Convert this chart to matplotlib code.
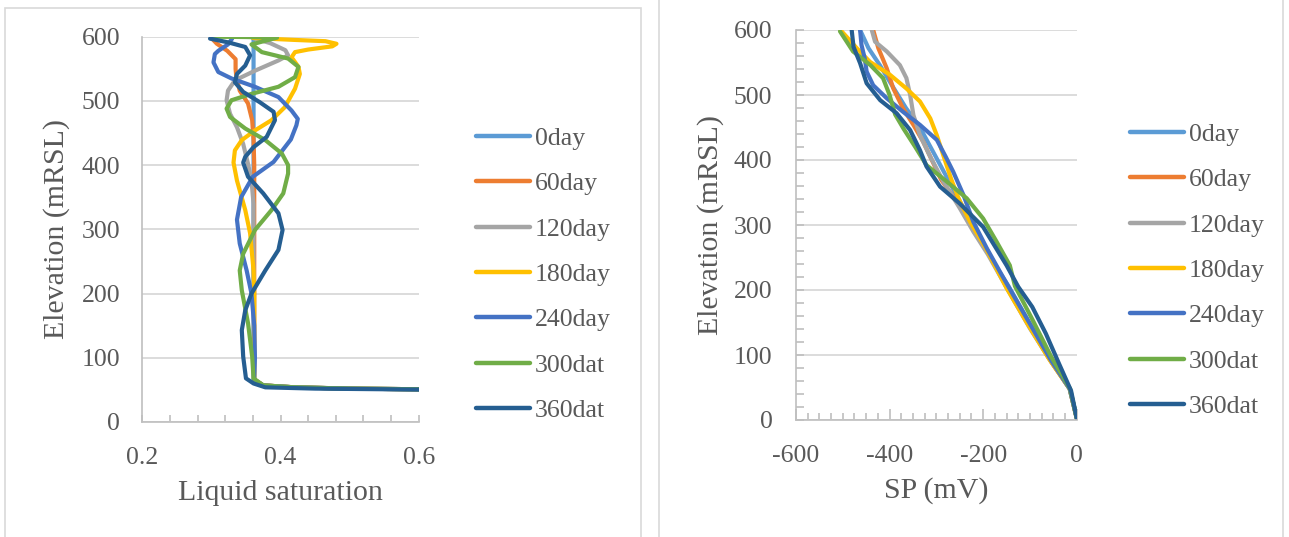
import matplotlib
matplotlib.use("Agg")
import matplotlib.pyplot as plt
from matplotlib.patches import Rectangle
from matplotlib.ticker import MultipleLocator

plt.rcParams['font.family'] = ['Liberation Serif', 'DejaVu Serif']
plt.rcParams['axes.unicode_minus'] = False

# series names and colours (Excel default palette)
labels = ["0day", "60day", "120day", "180day", "240day", "300dat", "360dat"]
colors = ["#5B9BD5", "#ED7D31", "#A5A5A5", "#FFC000", "#4472C4", "#70AD47", "#255E91"]

# ---- left chart: liquid saturation vs elevation ----
sat_0day = [0.361, 0.361, 0.361, 0.375, 0.42, 0.5, 0.6]
z_0day = [600, 300, 66, 57, 54, 52, 51]

sat_60day = [0.300, 0.308, 0.323, 0.335, 0.335, 0.336, 0.341, 0.353, 0.359, 0.361, 0.362,
             0.362, 0.362, 0.375, 0.42, 0.5, 0.6]
z_60day = [598, 589, 578, 565, 550, 538, 516, 496, 470, 440, 400,
           200, 66, 57, 54, 52, 51]

sat_120day = [0.36, 0.385, 0.407, 0.411, 0.397, 0.363, 0.334, 0.324, 0.322, 0.327, 0.337,
              0.346, 0.353, 0.358, 0.361, 0.361, 0.375, 0.42, 0.5, 0.6]
z_120day = [598, 590, 579, 571, 563, 547, 532, 516, 501, 480, 459,
            433, 402, 376, 340, 66, 57, 54, 52, 51]

sat_180day = [0.36, 0.42, 0.465, 0.481, 0.475, 0.44, 0.421, 0.416, 0.426, 0.428, 0.421,
              0.406, 0.387, 0.363, 0.344, 0.334, 0.332, 0.337, 0.349, 0.356, 0.361,
              0.362, 0.362, 0.375, 0.42, 0.5, 0.6]
z_180day = [598, 595, 593, 589, 585, 580, 576, 568, 553, 542, 519,
            490, 470, 454, 439, 423, 404, 376, 330, 294, 236,
            200, 66, 57, 54, 52, 51]

sat_240day = [0.33, 0.324, 0.31, 0.305, 0.303, 0.31, 0.329, 0.363, 0.397, 0.416, 0.425,
              0.423, 0.415, 0.39, 0.36, 0.343, 0.337, 0.341, 0.351, 0.358, 0.362,
              0.363, 0.362, 0.375, 0.42, 0.5, 0.6]
z_240day = [597, 588, 578, 573, 560, 545, 535, 522, 506, 485, 472,
            462, 440, 405, 382, 350, 315, 278, 236, 200, 150,
            100, 66, 57, 54, 52, 51]

sat_300dat = [0.300, 0.35, 0.395, 0.358, 0.373, 0.411, 0.426, 0.421, 0.397, 0.358, 0.329,
              0.322, 0.327, 0.349, 0.378, 0.402, 0.411, 0.411, 0.404, 0.387, 0.363,
              0.346, 0.341, 0.344, 0.353, 0.359, 0.361, 0.375, 0.42, 0.5, 0.6]
z_300dat = [600, 599.5, 598.5, 588, 576, 566, 553, 537, 522, 511, 501,
            488, 475, 457, 439, 418, 400, 387, 356, 330, 299,
            262, 236, 205, 154, 102, 68, 57, 54, 52, 51]

sat_360dat = [0.298, 0.325, 0.349, 0.356, 0.349, 0.337, 0.334, 0.346, 0.370, 0.390, 0.392,
              0.380, 0.361, 0.349, 0.346, 0.353, 0.375, 0.397, 0.403, 0.397, 0.378,
              0.358, 0.349, 0.344, 0.346, 0.350, 0.361, 0.378, 0.45, 0.6]
z_360dat = [597, 591, 584, 571, 555, 542, 529, 514, 498, 483, 470,
            444, 428, 413, 404, 382, 356, 325, 299, 268, 236,
            200, 174, 143, 102, 68, 60, 54, 52, 50.5]

# ---- right chart: SP vs elevation ----
sp_0day = [-463, -445, -420, -395, -365, -335, -305, -275, -245, -215, -180, -145, -100, -55, -15, 0]
zs_0day = [600, 572, 545, 515, 480, 450, 410, 370, 330, 290, 245, 205, 148, 92, 48, 3]

sp_60day = [-435, -424, -406, -392, -371, -349, -328, -313, -290, -260, -230, -190, -150, -100, -55, -15, 0]
zs_60day = [600, 572, 541, 510, 479, 454, 428, 405, 370, 340, 305, 260, 205, 143, 90, 48, 3]

sp_120day = [-438, -431, -406, -378, -364, -356, -349, -335, -313, -285, -250, -221, -190, -150, -100, -55, -15, 0]
zs_120day = [600, 582, 567, 546, 526, 500, 469, 438, 405, 367, 326, 290, 255, 204, 141, 90, 48, 3]

sp_180day = [-505, -470, -442, -399, -364, -335, -313, -299, -285, -268, -252, -228, -194, -150, -105, -60, -15, 0]
zs_180day = [600, 572, 551, 531, 510, 490, 464, 438, 407, 370, 340, 305, 264, 203, 148, 95, 48, 3]

sp_240day = [-463, -460, -453, -449, -435, -406, -371, -335, -299, -280, -264, -242, -221, -192, -164, -145, -100, -55, -15, 0]
zs_240day = [600, 577, 556, 536, 515, 495, 474, 454, 431, 405, 382, 346, 305, 264, 228, 204, 148, 92, 48, 3]

sp_300dat = [-506, -478, -441, -414, -400, -388, -370, -345, -321, -278, -235, -200, -171, -143, -132, -95, -55, -14, 0]
zs_300dat = [598, 567, 546, 526, 500, 470, 448, 420, 392, 367, 341, 310, 274, 238, 206, 155, 98, 48, 3]

sp_360dat = [-481, -477, -463, -449, -420, -385, -356, -335, -321, -292, -250, -200, -150, -125, -95, -66, -38, -12, 0]
zs_360dat = [600, 574, 549, 518, 492, 472, 446, 415, 390, 359, 333, 297, 238, 205, 174, 133, 87, 45, 3]

left_series = [(sat_0day, z_0day), (sat_60day, z_60day), (sat_120day, z_120day), (sat_180day, z_180day),
               (sat_240day, z_240day), (sat_300dat, z_300dat), (sat_360dat, z_360dat)]
right_series = [(sp_0day, zs_0day), (sp_60day, zs_60day), (sp_120day, zs_120day), (sp_180day, zs_180day),
                (sp_240day, zs_240day), (sp_300dat, zs_300dat), (sp_360dat, zs_360dat)]

txt = "#595959"
grid_c = "#D9D9D9"
axis_c = "#BFBFBF"

fig = plt.figure(figsize=(12.89, 5.37), dpi=100)

# chart area borders
fig.patches.append(Rectangle((5/1289, -0.05), 636/1289, 1.05 - 8/537, transform=fig.transFigure,
                             fill=False, edgecolor=grid_c, lw=1.2))
fig.patches.append(Rectangle((659/1289, -0.05), 624/1289, 1.2, transform=fig.transFigure,
                             fill=False, edgecolor=grid_c, lw=1.2))

ax1 = fig.add_axes([142.3/1289, 1 - 422/537, 276.4/1289, 385.3/537])
ax2 = fig.add_axes([796/1289, 1 - 420/537, 280.7/1289, 390/537])

for ax in (ax1, ax2):
    for sp in ("top", "right"):
        ax.spines[sp].set_visible(False)
    for sp in ("left", "bottom"):
        ax.spines[sp].set_color(axis_c)
        ax.spines[sp].set_linewidth(1.2)
    ax.set_ylim(0, 600)
    ax.yaxis.set_major_locator(MultipleLocator(100))
    ax.grid(axis="y", color=grid_c, lw=1.3)
    ax.set_axisbelow(True)
    ax.tick_params(which="both", labelsize=18.5, labelcolor=txt, color=axis_c, direction="in")

# left chart
handles = []
for (x, z), c, lab in zip(left_series, colors, labels):
    h, = ax1.plot(x, z, color=c, lw=3, label=lab, solid_joinstyle="round", solid_capstyle="round")
    handles.append(h)
ax1.set_xlim(0.2, 0.6)
ax1.xaxis.set_major_locator(MultipleLocator(0.2))
ax1.xaxis.set_minor_locator(MultipleLocator(0.04))
ax1.tick_params(axis="x", which="both", length=5, width=1.2, pad=18, color=axis_c)
ax1.tick_params(axis="y", length=0, pad=16)
ax1.set_xlabel("Liquid saturation", fontsize=21.5, color=txt)
ax1.xaxis.set_label_coords(0.5, -0.185)
ax1.xaxis.label.set_va("center")
ax1.set_ylabel("Elevation (mRSL)", fontsize=21.5, color=txt)
ax1.yaxis.set_label_coords(-0.309, 0.5)
ax1.yaxis.label.set_va("center")

# right chart
for (x, z), c, lab in zip(right_series, colors, labels):
    ax2.plot(x, z, color=c, lw=3, label=lab, solid_joinstyle="round", solid_capstyle="round")
ax2.set_xlim(-600, 0)
ax2.xaxis.set_major_locator(MultipleLocator(200))
ax2.xaxis.set_minor_locator(MultipleLocator(25))
ax2.yaxis.set_minor_locator(MultipleLocator(20))
ax2.tick_params(axis="x", which="major", length=8, width=1.2, pad=18, color=axis_c)
ax2.tick_params(axis="x", which="minor", length=5, width=1.2, color=axis_c)
ax2.tick_params(axis="y", which="both", length=6, width=1.2, pad=17, color=axis_c)
ax2.set_xlabel("SP (mV)", fontsize=21.5, color=txt)
ax2.xaxis.set_label_coords(0.499, -0.18)
ax2.xaxis.label.set_va("center")
ax2.set_ylabel("Elevation (mRSL)", fontsize=21.5, color=txt)
ax2.yaxis.set_label_coords(-0.306, 0.5)
ax2.yaxis.label.set_va("center")

# legends
for xa, ya in ((476/1289, 1 - 274.5/537), (1130/1289, 1 - 270.5/537)):
    leg = fig.legend(handles=handles, loc="center left", bbox_to_anchor=(xa, ya),
                     frameon=False, fontsize=18.5, handlelength=2.1, handletextpad=0.2,
                     labelspacing=0.87, borderpad=0, borderaxespad=0)
    for t in leg.get_texts():
        t.set_color(txt)
    for l in leg.get_lines():
        l.set_linewidth(3.2)

fig.savefig("out.png", dpi=100)
